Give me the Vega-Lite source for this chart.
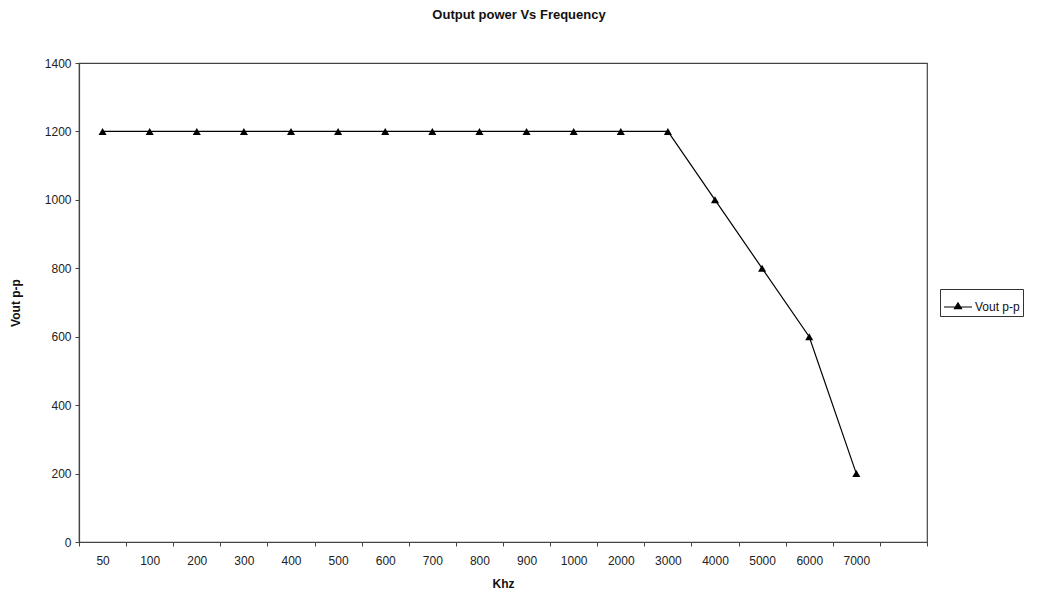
{
  "$schema": "https://vega.github.io/schema/vega-lite/v6.json",
  "autosize": "none",
  "width": 848,
  "height": 479,
  "padding": {"left": 79, "top": 63, "right": 121, "bottom": 52},
  "background": "white",
  "title": {
    "text": "Output power Vs Frequency",
    "font": "Liberation Sans",
    "fontSize": 13,
    "fontWeight": "bold",
    "color": "#111",
    "anchor": "middle",
    "dx": 16,
    "offset": 35
  },
  "data": {
    "values": [
      {"khz": "50", "vout": 1200, "series": "Vout p-p"},
      {"khz": "100", "vout": 1200, "series": "Vout p-p"},
      {"khz": "200", "vout": 1200, "series": "Vout p-p"},
      {"khz": "300", "vout": 1200, "series": "Vout p-p"},
      {"khz": "400", "vout": 1200, "series": "Vout p-p"},
      {"khz": "500", "vout": 1200, "series": "Vout p-p"},
      {"khz": "600", "vout": 1200, "series": "Vout p-p"},
      {"khz": "700", "vout": 1200, "series": "Vout p-p"},
      {"khz": "800", "vout": 1200, "series": "Vout p-p"},
      {"khz": "900", "vout": 1200, "series": "Vout p-p"},
      {"khz": "1000", "vout": 1200, "series": "Vout p-p"},
      {"khz": "2000", "vout": 1200, "series": "Vout p-p"},
      {"khz": "3000", "vout": 1200, "series": "Vout p-p"},
      {"khz": "4000", "vout": 1000, "series": "Vout p-p"},
      {"khz": "5000", "vout": 800, "series": "Vout p-p"},
      {"khz": "6000", "vout": 600, "series": "Vout p-p"},
      {"khz": "7000", "vout": 200, "series": "Vout p-p"}
    ]
  },
  "mark": {
    "type": "line",
    "strokeWidth": 1.2,
    "point": {"shape": "triangle-up", "size": 65, "filled": true, "color": "#000"}
  },
  "encoding": {
    "x": {
      "field": "khz",
      "type": "ordinal",
      "bandPosition": 0.5,
      "scale": {
        "type": "band",
        "paddingInner": 0,
        "paddingOuter": 0,
        "domain": ["50", "100", "200", "300", "400", "500", "600", "700", "800", "900", "1000", "2000", "3000", "4000", "5000", "6000", "7000", "pad"]
      },
      "axis": {
        "title": "Khz",
        "tickBand": "extent",
        "labelAngle": 0,
        "labelExpr": "datum.value == 'pad' ? '' : datum.label",
        "labelPadding": 9,
        "labelFontSize": 12,
        "titlePadding": 12
      }
    },
    "y": {
      "field": "vout",
      "type": "quantitative",
      "scale": {"domain": [0, 1400], "nice": false},
      "axis": {
        "title": "Vout p-p",
        "values": [0, 200, 400, 600, 800, 1000, 1200, 1400],
        "format": "d",
        "grid": false,
        "labelPadding": 4,
        "labelFontSize": 12,
        "titlePadding": 22
      }
    },
    "color": {
      "field": "series",
      "type": "nominal",
      "scale": {"range": ["#000"]},
      "legend": {
        "title": null,
        "orient": "none",
        "legendX": 861,
        "legendY": 226,
        "strokeColor": "#333",
        "padding": 3,
        "symbolType": "M-1,0H1M-0.25,0.12L0,-0.3L0.25,0.12Z",
        "symbolSize": 784,
        "symbolStrokeWidth": 1.2,
        "symbolFillColor": "#000",
        "symbolStrokeColor": "#000",
        "labelFont": "Liberation Sans",
        "labelFontSize": 12,
        "labelColor": "#111",
        "labelOffset": 2
      }
    }
  },
  "config": {
    "view": {"stroke": "#444", "strokeWidth": 1.2},
    "axis": {
      "labelFont": "Liberation Sans",
      "labelFontSize": 11.5,
      "labelColor": "#222",
      "titleFont": "Liberation Sans",
      "titleFontSize": 12,
      "titleFontWeight": "bold",
      "titleColor": "#111",
      "domainColor": "#444",
      "domainWidth": 1.2,
      "tickColor": "#444",
      "tickSize": 4
    }
  }
}
